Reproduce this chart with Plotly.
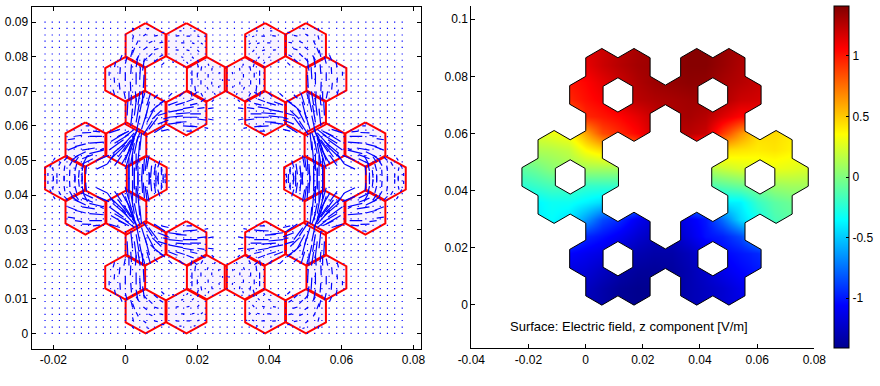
import math
import plotly.graph_objects as go

# ---- tick labels ----
L_XT = [-0.02, 0, 0.02, 0.04, 0.06, 0.08]
L_XL = ["-0.02", "0", "0.02", "0.04", "0.06", "0.08"]
L_YT = [0, 0.01, 0.02, 0.03, 0.04, 0.05, 0.06, 0.07, 0.08, 0.09]
L_YL = ["0", "0.01", "0.02", "0.03", "0.04", "0.05", "0.06", "0.07", "0.08", "0.09"]
R_XT = [-0.04, -0.02, 0, 0.02, 0.04, 0.06, 0.08]
R_XL = ["-0.04", "-0.02", "0", "0.02", "0.04", "0.06", "0.08"]
R_YT = [0, 0.02, 0.04, 0.06, 0.08, 0.1]
R_YL = ["0", "0.02", "0.04", "0.06", "0.08", "0.1"]
CB_T = [-1, -0.5, 0, 0.5, 1]
CB_L = ["-1", "-0.5", "0", "0.5", "1"]
CAPTION = "Surface: Electric field, z component [V/m]"

# ---- geometry, metres ----
RING_CENTERS = [(0.0113, 0.0162), (0.0445, 0.0162), (0.0113, 0.0735),
                (0.0445, 0.0735), (-0.0054, 0.0448), (0.0610, 0.0448)]
LEFT_PITCH_R = 0.00655
LEFT_HEX_R = 0.0064
RIGHT_HEX_R = 0.0065
HOLE_R = 0.0060

# ---- quiver sample grid (mm) ----
GRID_X = [-22.3,-20.3,-18.3,-16.2,-14.2,-12.2,-10.2,-8.1,-6.1,-4.1,-2.1,0.0,2.0,4.0,6.0,8.1,10.1,12.1,14.1,16.2,
          18.2,20.2,22.2,24.3,26.3,28.3,30.3,32.4,34.4,36.4,38.4,40.4,42.5,44.5,46.5,48.5,50.6,52.6,54.6,56.6,
          58.7,60.7,62.7,64.7,66.8,68.8,70.8,72.8,74.8,76.9]
GRID_Y = [0,1.8,3.7,5.5,7.3,9.2,11.0,12.9,14.7,16.5,18.4,20.2,22.0,23.9,25.7,27.6,29.4,31.2,33.1,34.9,
          36.7,38.6,40.4,42.2,44.1,45.9,47.8,49.6,51.4,53.3,55.1,56.9,58.8,60.6,62.4,64.3,66.1,68.0,69.8,71.6,
          73.5,75.3,77.1,79.0,80.8,82.7,84.5,86.3,88.2,90.0]

# ---- arrows read for one quadrant (x, y, dx, dy in mm) ----
ARROWS_TOP_LEFT = [(2,85,0.3,1.2),(5,86,0.8,0.6),(8,86,1,0.2),(2,81,0.6,1.6),(5,82,1.0,0.8),(8,82,1.2,0.4),
                   (5,78.5,1,1.2),(8,78.5,1,0.9),(3,83.5,.6,1.2),(6.5,84,1,.5),(9.5,84,1,.2),(3,79,.8,1.4),
                   (6.5,80,1,1),(9.5,80,1,.6),(2,87.5,.3,.8),(6,88,.6,.2),(10,87,.8,.1),(10,77.5,.8,.8)]
ARROWS_TOP_RIGHT = [(14,86,1,0.1),(17,86,1,0),(20,86,.6,-.2),(14,82,.8,-.1),(17,82,.8,-.2),(20,82,.5,-.6),
                    (17,78.5,.4,-.5),(20,79,.4,-.6),(15.5,84,.9,0),(18.5,84,.7,-.2),(15.5,80,.6,-.2),(18.5,80,.5,-.5),
                    (21,84,.5,-.4),(13,78.5,.5,-.1),(22,86,.3,-.3),(15,87.5,.6,0),(19,87.5,.5,-.1)]
ARROWS_LEFT = [(-3,77,.3,1.5),(-3,72.5,-.1,1.5),(-3,69,-.4,1.5),(0,78,.5,2),(0,73,0,2.5),(0,68,-.4,2),
               (3,77,.5,3),(3,72,0,3.5),(3,67,-.2,3),(4.8,76,.5,3.5),(5,71,.2,3.8),(4.8,66.5,0,3.5),
               (-4.5,74.5,0,1.2),(-1.5,75,.1,2),(1.5,75,.2,2.8),(-1.5,70.5,-.2,2),(1.5,70,-.1,2.8),(4,73.5,.2,3.5),
               (-1.5,79,.6,1.5),(1.5,80,.5,2)]
ARROWS_FAN = [(1.5,60,.5,5),(2.5,63,.6,5),(3.5,66,.6,4),(4.5,59,1.5,5),(5.5,62,1.2,5),(6,66,1,3.5),
              (6.5,59,2.5,3.5),(7.5,62,2.5,2.5),(8.5,65.5,2,1.5),(8,58,3,2),(9,60.5,3,1.2),(9,63,2.5,.8),
              (1.5,66,.2,3),(5,57.5,2.5,4),(3,58,1,5),(0.5,63,.2,4),(3,61,.8,5),(6,61,2,4),(4,64,.8,4),(7,64,2,2),
              (10,58.5,2,.5),(10.5,62,1.5,.4),(9.5,66.5,1.5,1),(5,68,.4,1.5),(8,68,1,1),(1,67.5,0,2.5)]
ARROWS_BOTTOM_RIGHT = [(12,60.5,3.5,.5),(12,62.5,4,.4),(12,64,4,0.8),(12,66,2.5,1),(16,62.5,4,0),(16,60,3,-.2),
                       (16,65,3,.5),(17,67,2,.8),(20,62,2.5,-.3),(20,65,2,.3),(21,67,1,.8),(15,68.5,1,1),
                       (19,69,1,.8),(12,68.5,1,1),(14,61,3,.2),(14,63.5,4,.3),(14,66,2.5,.8),(18,60,2,-.3),
                       (18,63.5,3,0),(18,66,2,.5),(23,62,1.5,-.3),(23,65,1.5,.2),(24,67,.6,.6),(22,59.5,1,-.2),
                       (17,58.5,1.5,0)]
ARROWS_RIGHT = [(18.5,76,0,-1.5),(18.5,72,0,1.8),(21,76,.2,1.2),(21,72,0,1.2),(24,76,.1,.8),(24,72,0,.8),
                (27,73,0,.5),(18.5,68.5,-.3,1.5),(21.5,68.5,-.5,1),(25,69,-.3,.5),(20,74,0,1.4),(23,74,0,1),
                (26,71,-.1,.6),(26,75,.1,.6),(20,78,.3,-1),(23,78,.2,-.6),(19.5,70,-.2,1.6),(23,70.5,-.3,.8)]
ARROWS_SIDE_TOP_RIGHT = [(-4.5,53,4,3),(-4,50.5,4,4),(-4,55.5,4,2.5),(-2,51,3.5,5),(-1,54,3.5,4),(-2,57,3,1.5),
                         (0,50,2,6),(1,53,2,5),(1.5,49,1,6),(2.5,52,1,5),(3.5,49.5,.5,6),(4,53,.5,5),
                         (0,57,2.5,2),(-3,48.5,2,3),(0,47.5,1,3.5),(-3.5,52,4,3.5),(-3,55,4,2.5),(-1,49,2.5,4.5),
                         (-.5,52.5,3,4.5),(1,51,1.5,5.5),(3,55,1,3),(-4.5,58,3,1),(2,56.5,1.5,2.5),(-5,49,2,3),
                         (3,47.5,.8,3)]
ARROWS_SIDE_TOP_LEFT = [(-14,57,2,.3),(-10,57,3.5,0),(-14,54,3,.8),(-10,55,4,.3),(-14,51,3,1.5),(-10,52,4,1),
                        (-12,49,3,1.5),(-8,50,3.5,1.5),(-9,58.5,2,-.2),(-12,58,2.5,.1),(-16,53,2.5,1),(-12,53,3.5,.6),
                        (-16,56,2,.3),(-12,50.5,3,1.2),(-7,53,1,.5),(-8,47.5,3,1.5),(-11,60,1,0),(-15,50,2,1.5)]
ARROWS_SIDE_RIGHT = [(1,44.8,0,6),(2.5,42,0,6),(3,47,0,5),(4.5,44,.3,5),(5.5,47,.5,4),(6.5,43,.3,3.5),
                     (8,46,.4,3),(9,44,.2,2.5),(10,46,.2,1.5),(10.5,43.5,0,1.5),(2,45.5,0,6),(3.5,43,0,5.5),
                     (5,46,.3,4.5),(7,45,.3,3.5),(1,41,0,4),(8.5,42.5,0,2.5),(10,41.5,0,1.5),(6,48,.6,3.5),
                     (9,48,.6,2),(11,45,.1,1.2)]
ARROWS_SIDE_LEFT = [(-20,47,-.2,1),(-17,47,.2,1.5),(-14,47,.5,2),(-12,47,.5,2.5),(-20,44,0,1.2),(-17,44,0,1.5),
                    (-14,44,0,2),(-12,44,0,2.5),(-20,50,.5,.8),(-17,50,1,1),(-14,49.5,1,1.5),(-11.5,49.5,1,2),
                    (-21.5,45.5,0,.9),(-19,45,0,1.3),(-15.5,45.5,.1,1.8),(-13,45,.2,2.2),(-11,46,.2,2.5),
                    (-18.5,48.5,.6,1.1),(-15.5,48.5,.8,1.4),(-21,48,.4,.7)]
MIRROR_X_MM = 27.9
MIRROR_Y_MM = 44.8

# ---- surface values ----
Z_X = [-0.024,-0.018,-0.012,-0.006,0,0.006,0.012,0.018,0.024,0.03,0.036,0.042,0.048,0.054,0.06,0.066,0.072,0.0765]
Z_Y = [0.09,0.084,0.078,0.072,0.066,0.06,0.054,0.048,0.042,0.036,0.03,0.024,0.018,0.012,0.006,0]
Z = [
 [1.1,1.1,1.1,1.1,1.15,1.2,1.25,1.3,1.33,1.36,1.39,1.39,1.35,1.3,1.25,1.2,1.1,1.1],
 [1.0,1.0,1.0,1.05,1.12,1.2,1.26,1.31,1.33,1.36,1.39,1.39,1.34,1.28,1.24,1.2,1.1,1.1],
 [.95,.95,.95,1.0,1.05,1.13,1.2,1.28,1.33,1.35,1.37,1.36,1.3,1.26,1.22,1.15,1.1,1.1],
 [.9,.9,.9,.95,1.02,1.08,1.18,1.25,1.28,1.3,1.32,1.32,1.28,1.2,1.18,1.1,1.0,1.0],
 [.5,.5,.55,.75,.95,1.0,1.05,1.13,1.22,1.28,1.3,1.26,1.15,1.05,1.05,.8,.6,.6],
 [.25,.25,.3,.35,.6,.85,.95,1.05,1.2,1.25,1.25,1.2,.9,.65,.45,.45,.4,.4],
 [.1,.12,.14,.18,.35,.45,.5,.7,.9,1.0,.95,.7,.45,.42,.4,.42,.38,.35],
 [-.1,-.05,.03,.08,.1,.1,.1,.1,.1,.1,.1,.12,.2,.25,.28,.3,.28,.25],
 [-.25,-.2,-.15,-.15,-.2,-.2,-.2,-.2,-.2,-.2,-.2,-.15,-.1,-.05,0,.08,.1,.1],
 [-.4,-.38,-.32,-.32,-.38,-.45,-.5,-.6,-.7,-.7,-.6,-.5,-.4,-.38,-.2,-.1,-.05,-.05],
 [-.45,-.4,-.35,-.42,-.62,-.85,-.95,-1.1,-1.2,-1.2,-1.1,-1.0,-.75,-.45,-.3,-.15,-.1,-.1],
 [-.7,-.65,-.6,-.8,-.95,-1.02,-1.1,-1.2,-1.27,-1.27,-1.15,-1.02,-.97,-.85,-.6,-.4,-.3,-.3],
 [-1,-1,-1,-1.05,-1.1,-1.15,-1.22,-1.3,-1.33,-1.33,-1.27,-1.15,-1.05,-1.0,-.95,-.8,-.7,-.7],
 [-1.1,-1.1,-1.1,-1.15,-1.18,-1.25,-1.32,-1.37,-1.38,-1.36,-1.3,-1.22,-1.12,-1.05,-1.0,-.95,-.9,-.9],
 [-1.2,-1.2,-1.2,-1.22,-1.25,-1.32,-1.38,-1.41,-1.4,-1.36,-1.3,-1.25,-1.2,-1.12,-1.05,-1.0,-1.0,-1.0],
 [-1.2,-1.2,-1.2,-1.25,-1.28,-1.33,-1.39,-1.41,-1.4,-1.36,-1.3,-1.25,-1.2,-1.14,-1.08,-1.0,-1.0,-1.0],
]
JET = [[0, "#00008f"], [0.125, "#0000ff"], [0.375, "#00ffff"], [0.625, "#ffff00"], [0.875, "#ff0000"], [1, "#800000"]]
ZMIN, ZMAX = -1.41, 1.41
FONT = "Liberation Sans"


def hexagon(cx, cy, r):
    return [(cx + r * math.cos(math.radians(90 + 60 * k)), cy + r * math.sin(math.radians(90 + 60 * k))) for k in range(6)]


def ring_offsets(r, with_center=False):
    w = math.sqrt(3) * r
    off = [(-w / 2, 1.5 * r), (w / 2, 1.5 * r), (-w, 0), (w, 0), (-w / 2, -1.5 * r), (w / 2, -1.5 * r)]
    return off + [(0, 0)] if with_center else off


def inside(p, poly, eps=1e-9):
    for i in range(6):
        a, b = poly[i], poly[(i + 1) % 6]
        if (b[0] - a[0]) * (p[1] - a[1]) - (b[1] - a[1]) * (p[0] - a[0]) < -eps:
            return False
    return True


def union_loops(polys):
    segs = []
    for i, poly in enumerate(polys):
        for k in range(6):
            p, q = poly[k], poly[(k + 1) % 6]
            ts = [0.0, 1.0]
            for j, other in enumerate(polys):
                if j == i:
                    continue
                for m in range(6):
                    a, b = other[m], other[(m + 1) % 6]
                    d = (q[0] - p[0]) * (b[1] - a[1]) - (q[1] - p[1]) * (b[0] - a[0])
                    if abs(d) < 1e-14:
                        continue
                    t = ((a[0] - p[0]) * (b[1] - a[1]) - (a[1] - p[1]) * (b[0] - a[0])) / d
                    u = ((a[0] - p[0]) * (q[1] - p[1]) - (a[1] - p[1]) * (q[0] - p[0])) / d
                    if 1e-7 < t < 1 - 1e-7 and -1e-7 <= u <= 1 + 1e-7:
                        ts.append(t)
            ts.sort()
            for t0, t1 in zip(ts, ts[1:]):
                if t1 - t0 < 1e-7:
                    continue
                s = (p[0] + (q[0] - p[0]) * t0, p[1] + (q[1] - p[1]) * t0)
                e = (p[0] + (q[0] - p[0]) * t1, p[1] + (q[1] - p[1]) * t1)
                mid = ((s[0] + e[0]) / 2, (s[1] + e[1]) / 2)
                if not any(inside(mid, o) for j, o in enumerate(polys) if j != i):
                    segs.append((s, e))
    loops = []
    while segs:
        s, e = segs.pop()
        loop = [s, e]
        while math.dist(loop[-1], loop[0]) > 1e-7:
            best = min(range(len(segs)), key=lambda n: math.dist(segs[n][0], loop[-1]))
            loop.append(segs.pop(best)[1])
        loops.append(loop[:-1])
    return loops


def to_path(loop):
    return "M" + "L".join(f"{x:.6f},{y:.6f}" for x, y in loop) + "Z"


fig = go.Figure()

# left panel: hexagons
hx, hy = [], []
for c in RING_CENTERS:
    for dx, dy in ring_offsets(LEFT_PITCH_R):
        pts = hexagon(c[0] + dx, c[1] + dy, LEFT_HEX_R)
        pts.append(pts[0])
        hx += [p[0] for p in pts] + [None]
        hy += [p[1] for p in pts] + [None]
fig.add_trace(go.Scatter(x=hx, y=hy, mode="lines", fill="toself", fillcolor="#f8f3ff",
                         line=dict(color="#ff0000", width=2), hoverinfo="skip", xaxis="x", yaxis="y"))

# left panel: dots
dots_x = [x / 1000 for y in GRID_Y for x in GRID_X]
dots_y = [y / 1000 for y in GRID_Y for x in GRID_X]
fig.add_trace(go.Scatter(x=dots_x, y=dots_y, mode="markers", hoverinfo="skip",
                         marker=dict(symbol="square", size=1.2, color="#0000ff", line=dict(width=0)),
                         xaxis="x", yaxis="y"))

# left panel: arrows
quadrant = (ARROWS_TOP_LEFT + ARROWS_TOP_RIGHT + ARROWS_LEFT + ARROWS_FAN + ARROWS_BOTTOM_RIGHT + ARROWS_RIGHT +
            ARROWS_SIDE_TOP_RIGHT + ARROWS_SIDE_TOP_LEFT + ARROWS_SIDE_RIGHT + ARROWS_SIDE_LEFT)
ax, ay = [], []
for x, y, u, v in quadrant:
    for sx in (1, -1):
        for sy in (1, -1):
            x0 = x if sx == 1 else 2 * MIRROR_X_MM - x
            y0 = y if sy == 1 else 2 * MIRROR_Y_MM - y
            ax += [x0 / 1000, (x0 + sx * u) / 1000, None]
            ay += [y0 / 1000, (y0 + sy * v) / 1000, None]
fig.add_trace(go.Scatter(x=ax, y=ay, mode="lines", line=dict(color="#0000ff", width=1.2), hoverinfo="skip",
                         xaxis="x", yaxis="y"))

# right panel: surface
fig.add_trace(go.Heatmap(x=Z_X, y=Z_Y, z=Z, zsmooth="best", colorscale=JET, zmin=ZMIN, zmax=ZMAX, hoverinfo="skip",
                         xaxis="x2", yaxis="y2",
                         colorbar=dict(x=834.3 / 880, xanchor="left", y=38 / 386, yanchor="bottom", lenmode="fraction",
                                       len=342 / 386, thickness=15.4, thicknessmode="pixels", xpad=0, ypad=0,
                                       outlinewidth=1, outlinecolor="#000", tickvals=CB_T, ticktext=CB_L,
                                       ticks="inside", ticklen=3, tickcolor="#000",
                                       tickfont=dict(family=FONT, size=12, color="#000"))))

polys = [hexagon(c[0] + dx, c[1] + dy, RIGHT_HEX_R) for c in RING_CENTERS for dx, dy in ring_offsets(RIGHT_HEX_R, True)]
loops = union_loops(polys)
holes = [hexagon(c[0], c[1], HOLE_R) for c in RING_CENTERS]
outline = " ".join(to_path(l) for l in loops + holes)
mask = "M-0.03,-0.005L0.083,-0.005L0.083,0.095L-0.03,0.095Z " + outline

fig.update_layout(
    width=880, height=386, autosize=False, margin=dict(l=0, r=0, t=0, b=0, autoexpand=False),
    paper_bgcolor="#fff", plot_bgcolor="#fff", showlegend=False,
    font=dict(family=FONT, size=12, color="#000"),
    xaxis=dict(domain=[31.5 / 880, 421.3 / 880], range=[-0.02606, 0.0822], tickvals=L_XT, ticktext=L_XL,
               ticks="inside", ticklen=4, showline=True, mirror="ticks", linecolor="#000", linewidth=1,
               showgrid=False, zeroline=False, anchor="y", tickcolor="#000"),
    yaxis=dict(domain=[37 / 386, 379 / 386], range=[-0.00454, 0.0944], tickvals=L_YT, ticktext=L_YL,
               ticks="inside", ticklen=4, showline=True, mirror="ticks", linecolor="#000", linewidth=1,
               showgrid=False, zeroline=False, anchor="x", tickcolor="#000"),
    xaxis2=dict(domain=[471.3 / 880, 814.3 / 880], range=[-0.04, 0.08], tickvals=R_XT, ticktext=R_XL,
                ticks="inside", ticklen=4, showline=True, linecolor="#000", linewidth=1,
                showgrid=False, zeroline=False, anchor="y2", tickcolor="#000"),
    yaxis2=dict(domain=[37.7 / 386, 380 / 386], range=[-0.01515, 0.1046], tickvals=R_YT, ticktext=R_YL,
                ticks="inside", ticklen=4, showline=True, linecolor="#000", linewidth=1,
                showgrid=False, zeroline=False, anchor="x2", tickcolor="#000"),
    shapes=[dict(type="path", path=mask, xref="x2", yref="y2", fillcolor="#fff", fillrule="evenodd",
                 line=dict(width=0), layer="above"),
            dict(type="path", path=outline, xref="x2", yref="y2", fillcolor="rgba(0,0,0,0)",
                 line=dict(color="#000", width=1), layer="above")],
    annotations=[dict(text=CAPTION, x=508 / 880, y=(386 - 326) / 386, xref="paper", yref="paper", xanchor="left",
                      yanchor="middle", showarrow=False, font=dict(family=FONT, size=13, color="#000"))],
)

fig.write_html("out.html", config={"displayModeBar": False},
               post_script="document.body.style.margin='0';document.body.style.overflow='hidden';")
